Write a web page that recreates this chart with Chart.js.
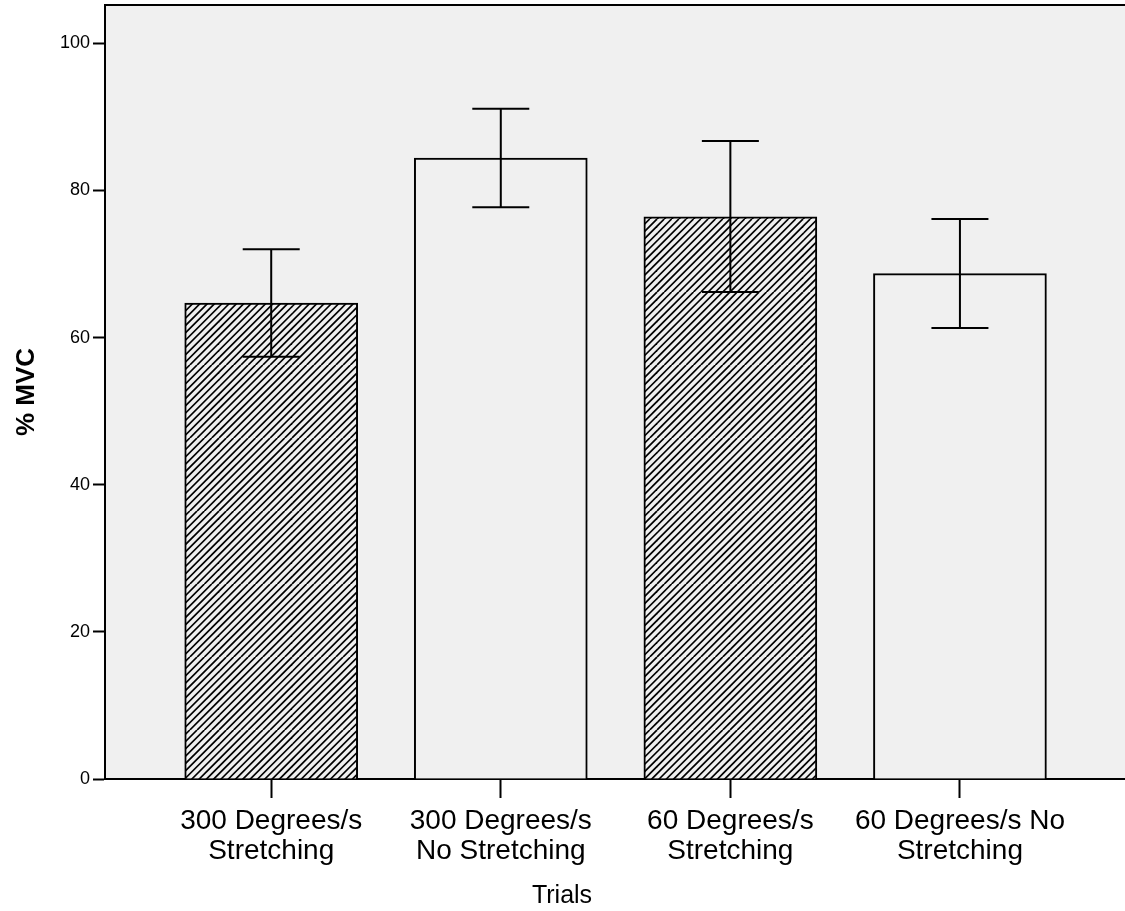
<!DOCTYPE html>
<html>
<head>
<meta charset="utf-8">
<script src="https://cdn.jsdelivr.net/npm/chart.js@4"></script>
<style>
  body { margin: 0; background: #fff; }
  #wrap { width: 1125px; height: 911px; position: relative; }
</style>
</head>
<body>
<div id="wrap"><canvas id="mvcChart"></canvas></div>
<script>
// Veriler
const categories = [
    ['300 Degrees/s', 'Stretching'],
    ['300 Degrees/s', 'No Stretching'],
    ['60 Degrees/s', 'Stretching'],
    ['60 Degrees/s No', 'Stretching']
];
const meanMVC = [64.7, 84.4, 76.4, 68.7];
const upperCI = [72.0, 91.1, 86.7, 76.1];
const lowerCI = [57.4, 77.7, 66.2, 61.3];
const yTicks = [0, 20, 40, 60, 80, 100];

const FONT = '"Liberation Sans", Arial, sans-serif';
const PLOT_BG = '#f0f0f0';

// Tarama deseni
function makeHatch() {
    const s = 7.3;
    const c = document.createElement('canvas');
    c.width = 73; c.height = 73;
    const g = c.getContext('2d');
    g.fillStyle = PLOT_BG;
    g.fillRect(0, 0, 73, 73);
    g.strokeStyle = '#000';
    g.lineWidth = 1.7;
    for (let k = -10; k <= 20; k++) {
        g.beginPath();
        g.moveTo(k * s, 73);
        g.lineTo(k * s + 73, 0);
        g.stroke();
    }
    return g.createPattern(c, 'repeat');
}
const hatch = makeHatch();
const hatched = [true, false, true, false];

const plotBackground = {
    id: 'plotBackground',
    beforeDraw(chart) {
        const { ctx, chartArea: a } = chart;
        ctx.save();
        ctx.fillStyle = PLOT_BG;
        ctx.fillRect(a.left, a.top, a.right - a.left, a.bottom - a.top);
        ctx.restore();
    },
    afterDraw(chart) {
        const { ctx, chartArea: a } = chart;
        ctx.save();
        ctx.strokeStyle = '#000';
        ctx.lineWidth = 2;
        ctx.beginPath();
        ctx.moveTo(a.left - 1, a.top);
        ctx.lineTo(a.right, a.top);
        ctx.stroke();
        // x ekseni başlığı
        ctx.fillStyle = '#000';
        ctx.font = '25px ' + FONT;
        ctx.textAlign = 'center';
        ctx.textBaseline = 'alphabetic';
        ctx.fillText('Trials', 562, 903);
        ctx.restore();
    }
};

const errorBars = {
    id: 'errorBars',
    afterDatasetsDraw(chart) {
        const { ctx, scales: { x, y } } = chart;
        ctx.save();
        ctx.strokeStyle = '#000';
        ctx.lineWidth = 2;
        meanMVC.forEach((m, i) => {
            const px = x.getPixelForValue(i);
            const top = y.getPixelForValue(upperCI[i]);
            const bot = y.getPixelForValue(lowerCI[i]);
            ctx.beginPath();
            ctx.moveTo(px, top); ctx.lineTo(px, bot);
            ctx.moveTo(px - 28.5, top); ctx.lineTo(px + 28.5, top);
            ctx.moveTo(px - 28.5, bot); ctx.lineTo(px + 28.5, bot);
            ctx.stroke();
        });
        ctx.restore();
    }
};

new Chart(document.getElementById('mvcChart'), {
    type: 'bar',
    data: {
        datasets: [{
            data: meanMVC.map((v, i) => ({ x: i, y: v })),
            backgroundColor: hatched.map(h => h ? hatch : PLOT_BG),
            borderColor: '#000',
            borderWidth: 2,
            barThickness: 173
        }]
    },
    options: {
        responsive: true,
        maintainAspectRatio: false,
        animation: false,
        layout: { padding: { top: 5, right: 0, left: 0, bottom: 0 } },
        plugins: {
            legend: { display: false },
            tooltip: { enabled: false }
        },
        scales: {
            x: {
                type: 'linear',
                offset: false,
                min: -0.724,
                max: 3.719,
                afterBuildTicks: s => { s.ticks = categories.map((c, i) => ({ value: i })); },
                afterFit: s => { s.height = 132; s.paddingLeft = 0; s.paddingRight = 0; },
                border: { display: true, color: '#000', width: 2 },
                grid: { offset: false, drawOnChartArea: false, drawTicks: true, tickLength: 19, tickWidth: 2, tickColor: '#000' },
                ticks: {
                    autoSkip: false,
                    maxRotation: 0,
                    padding: 8,
                    color: '#000',
                    font: { family: FONT, size: 28, lineHeight: 1.07 },
                    callback: v => categories[v]
                }
            },
            y: {
                min: 0,
                max: 105.2,
                afterBuildTicks: s => { s.ticks = yTicks.map(v => ({ value: v })); },
                afterFit: s => { s.width = 105; s.paddingTop = 0; s.paddingBottom = 0; },
                border: { display: true, color: '#000', width: 2 },
                grid: { drawOnChartArea: false, drawTicks: true, tickLength: 12, tickWidth: 2, tickColor: '#000' },
                ticks: {
                    padding: 3,
                    color: '#000',
                    font: { family: FONT, size: 18 }
                },
                title: {
                    display: true,
                    text: '% MVC',
                    color: '#000',
                    padding: { top: 11, bottom: 0 },
                    font: { family: FONT, size: 26, weight: 'bold' }
                }
            }
        }
    },
    plugins: [plotBackground, errorBars]
});
</script>
</body>
</html>
